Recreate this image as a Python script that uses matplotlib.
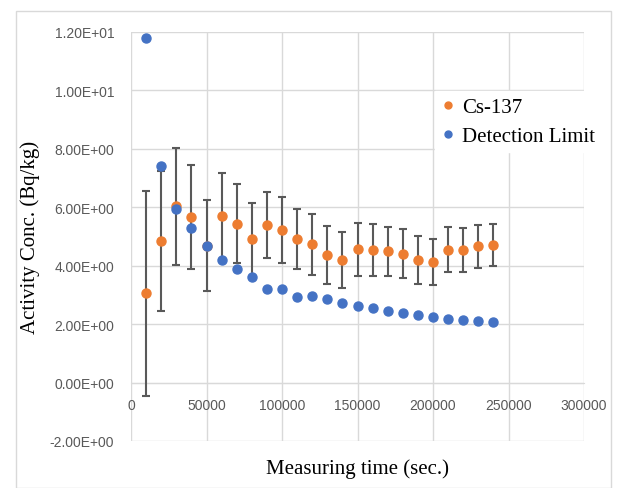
import numpy as np
import matplotlib
matplotlib.use('Agg')
import matplotlib.pyplot as plt
from matplotlib.patches import Rectangle
from matplotlib.lines import Line2D
from matplotlib.ticker import FuncFormatter

# measuring time (sec.)
t = [10000, 20000, 30000, 40000, 50000, 60000, 70000, 80000, 90000, 100000,
     110000, 120000, 130000, 140000, 150000, 160000, 170000, 180000, 190000,
     200000, 210000, 220000, 230000, 240000]

# Cs-137 activity and its uncertainty
cs137 = [3.05, 4.85, 6.03, 5.67, 4.69, 5.70, 5.44, 4.90, 5.40, 5.23,
         4.92, 4.73, 4.37, 4.20, 4.56, 4.55, 4.49, 4.41, 4.20, 4.14,
         4.55, 4.53, 4.66, 4.71]
cs137_err = [3.50, 2.39, 2.00, 1.79, 1.57, 1.48, 1.36, 1.26, 1.14, 1.13,
             1.02, 1.04, 0.99, 0.96, 0.91, 0.89, 0.85, 0.83, 0.82, 0.79,
             0.78, 0.76, 0.74, 0.73]

# detection limit
det_limit = [11.8, 7.41, 5.95, 5.28, 4.69, 4.18, 3.90, 3.63, 3.22, 3.22,
             2.93, 2.95, 2.86, 2.73, 2.63, 2.55, 2.45, 2.37, 2.33, 2.26,
             2.19, 2.15, 2.11, 2.06]

orange = '#ED7D31'
blue = '#4472C4'

fig = plt.figure(figsize=(6.17, 4.89), dpi=100)
ax = fig.add_axes([131/617, 1 - 442/489, 453/617, 409/489])

ax.errorbar(t, cs137, yerr=cs137_err, fmt='o', color=orange, markersize=6.5,
            ecolor='#595959', elinewidth=1.5, capsize=3, capthick=1.5,
            zorder=3)
ax.plot(t, det_limit, 'o', color=blue, markersize=6.5, zorder=4)

ax.set_xlim(0, 300000)
ax.set_ylim(-2, 12)
ax.set_xticks(range(0, 300001, 50000))
ax.set_yticks(range(-2, 13, 2))
ax.yaxis.set_major_formatter(FuncFormatter(lambda v, p: '{:.2E}'.format(v)))
ax.grid(True, color='#d9d9d9', linewidth=1)
ax.set_axisbelow(True)

for s in ['top', 'right', 'left']:
    ax.spines[s].set_visible(False)
ax.spines['bottom'].set_position(('data', 0))
ax.spines['bottom'].set_color('#d9d9d9')
ax.tick_params(axis='both', length=0, labelsize=10, labelcolor='#595959')
ax.tick_params(axis='x', pad=11)
ax.tick_params(axis='y', pad=12)
for lab in ax.get_xticklabels() + ax.get_yticklabels():
    lab.set_family('Liberation Sans')

ax.set_xlabel('Measuring time (sec.)', family='Liberation Serif', fontsize=15)
ax.xaxis.set_label_coords(0.5, -0.043)
ax.set_ylabel('Activity Conc. (Bq/kg)', family='Liberation Serif', fontsize=15)
ax.yaxis.set_label_coords(-0.20, 0.5)

handles = [Line2D([], [], marker='o', linestyle='none', color=orange, markersize=5),
           Line2D([], [], marker='o', linestyle='none', color=blue, markersize=5)]
leg = ax.legend(handles, ['Cs-137', 'Detection Limit'], loc='upper left',
                bbox_to_anchor=(425/617, 1 - 82/489),
                bbox_transform=fig.transFigure, frameon=True, fancybox=False,
                edgecolor='white', framealpha=1, handlelength=0.6,
                handletextpad=0.4, labelspacing=0.45,
                prop={'family': 'Liberation Serif', 'size': 15}, borderpad=0.3)

fig.patches.append(Rectangle((16/617, 0), 595/617, 1 - 12/489,
                             transform=fig.transFigure, fill=False,
                             edgecolor='#d9d9d9', linewidth=1))

fig.savefig('out.png', dpi=100)
